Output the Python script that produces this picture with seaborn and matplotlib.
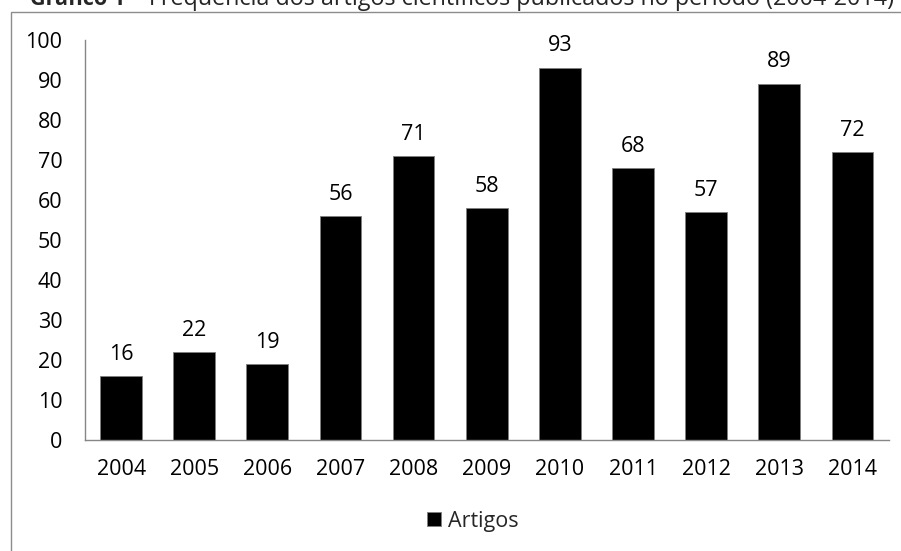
import matplotlib
matplotlib.use("Agg")
import matplotlib.pyplot as plt
import seaborn as sns
import pandas as pd
from matplotlib.patches import Rectangle

years = ["2004", "2005", "2006", "2007", "2008", "2009", "2010", "2011", "2012", "2013", "2014"]
artigos = [16, 22, 19, 56, 71, 58, 93, 68, 57, 89, 72]
series_name = "Artigos"
yticks = [0, 10, 20, 30, 40, 50, 60, 70, 80, 90, 100]
title_bold = "Gráfico 1"
title_rest = " – Frequência dos artigos científicos publicados no período (2004-2014)"

sns.set_theme(style="white")
plt.rcParams['font.family'] = ['Open Sans', 'DejaVu Sans']

W, H = 901, 551
FS = 15.5
fig = plt.figure(figsize=(W / 100, H / 100), dpi=100)

def fx(px):
    return px / W

def fy(py):
    return 1 - py / H

# outer chart border
fig.patches.append(Rectangle((fx(11), fy(600)), fx(950), fy(12) - fy(600),
                             transform=fig.transFigure, fill=False,
                             edgecolor="#8c8c8c", linewidth=1.0))

ax = fig.add_axes([fx(84.5), fy(440), fx(889) - fx(84.5), fy(39.5) - fy(440)])
df = pd.DataFrame({"Ano": years, series_name: artigos})
sns.barplot(data=df, x="Ano", y=series_name, color="black", width=0.57,
            edgecolor="#7f7f7f", linewidth=0.6, saturation=1, ax=ax,
            label=series_name)
if ax.get_legend() is not None:
    ax.get_legend().remove()

ax.set_ylim(0, 100)
ax.set_yticks(yticks)
ax.set_xlim(-0.5, len(years) - 0.5)
ax.set_xlabel("")
ax.set_ylabel("")
for s in ["top", "right"]:
    ax.spines[s].set_visible(False)
for s in ["left", "bottom"]:
    ax.spines[s].set_color("#868686")
    ax.spines[s].set_linewidth(1.0)
ax.tick_params(axis="y", length=0, pad=16, labelsize=FS, labelcolor="black")
ax.tick_params(axis="x", length=0, pad=14, labelsize=FS, labelcolor="black")

for c in ax.containers:
    ax.bar_label(c, labels=[str(v) for v in artigos], padding=8, fontsize=FS, color="black")

# title (clipped at top like the reference)
base_y = 5
t = fig.text(fx(30), fy(base_y), title_bold, fontsize=FS, fontweight="bold", va="baseline", ha="left")
fig.canvas.draw()
bb = t.get_window_extent()
t2 = fig.text(bb.x1 / W, fy(base_y), title_rest, fontsize=FS, va="baseline", ha="left")
fig.canvas.draw()
bb2 = t2.get_window_extent()
t2.set_fontsize(FS * (898 - bb.x1) / (bb2.x1 - bb.x1))

handles, labels = ax.get_legend_handles_labels()
fig.legend(handles, labels, loc="center", bbox_to_anchor=(fx(473), fy(521)),
           frameon=False, fontsize=FS, handlelength=0.65, handleheight=0.65,
           handletextpad=0.35)

fig.savefig("out.png", dpi=100)
